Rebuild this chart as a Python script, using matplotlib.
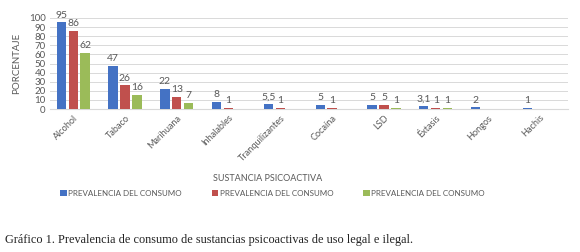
import numpy as np
import matplotlib.pyplot as plt

categories = ["Alcohol", "Tabaco", "Marihuana", "Inhalables", "Tranquilizantes",
              "Cocaína", "LSD", "Éxtasis", "Hongos", "Hachis"]
serie_1 = [95, 47, 22, 8, 5.5, 5, 5, 3.1, 2, 1]
serie_2 = [86, 26, 13, 1, 1, 1, 5, 1, None, None]
serie_3 = [62, 16, 7, None, None, None, 1, 1, None, None]
series_names = ["PREVALENCIA DEL CONSUMO"] * 3
colors = ["#4472C4", "#C0504D", "#9BBB59"]
yticks = list(range(0, 101, 10))

TEXT = "#595959"
plt.rcParams["font.family"] = ["Lato", "DejaVu Sans"]


def fmt(v):
    s = f"{v:g}"
    return s.replace(".", ",")


def main():
    fig = plt.figure(figsize=(5.8, 2.52), dpi=100)
    ax = fig.add_axes([0.086, 0.567, 0.893, 0.362])

    x = np.arange(len(categories))
    width = 0.18
    step = 0.23
    for i, (vals, col, name) in enumerate(zip([serie_1, serie_2, serie_3], colors, series_names)):
        xs = [xi + (i - 1) * step for xi, v in zip(x, vals) if v is not None]
        vs = [v for v in vals if v is not None]
        ax.bar(xs, vs, width=width, color=col, label=name, zorder=3)
        for xv, v in zip(xs, vs):
            ax.annotate(fmt(v), (xv, v), xytext=(0, 2), textcoords="offset points",
                        ha="center", va="bottom", fontsize=7.5, color=TEXT)

    ax.set_ylim(0, 100)
    ax.set_yticks(yticks)
    ax.set_xlim(-0.45, len(categories) - 0.45)
    ax.set_xticks(x)
    ax.set_xticklabels(categories, rotation=45, ha="right", rotation_mode="anchor")
    ax.tick_params(axis="both", length=0, labelsize=6.6, colors=TEXT, pad=3)
    ax.tick_params(axis="y", labelsize=7)
    ax.grid(axis="y", color="#D9D9D9", linewidth=0.7, zorder=0)
    for s in ["top", "right", "left"]:
        ax.spines[s].set_visible(False)
    ax.spines["bottom"].set_color("#D9D9D9")

    ax.set_ylabel("PORCENTAJE", fontsize=7, color=TEXT, labelpad=6)
    fig.text(0.462, 0.292, "SUSTANCIA PSICOACTIVA", ha="center", va="center",
             fontsize=6.5, color=TEXT)

    fig.legend(loc="center", bbox_to_anchor=(0.47, 0.232), ncol=3, frameon=False,
               fontsize=5.8, labelcolor=TEXT, handlelength=0.8, handleheight=0.8,
               handletextpad=0.2, columnspacing=3.7)

    fig.text(0.009, 0.047, "Gráfico 1. Prevalencia de consumo de sustancias psicoactivas de uso legal e ilegal.",
             ha="left", va="center", fontsize=8.8, family="Liberation Serif", color="#222222")

    fig.savefig("out.png", dpi=100)


if __name__ == "__main__":
    main()
